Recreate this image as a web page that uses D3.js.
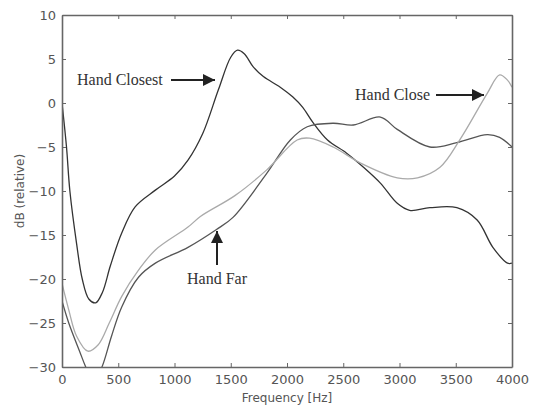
<!DOCTYPE html>
<html>
<head>
<meta charset="utf-8">
<script src="https://cdn.jsdelivr.net/npm/d3@7"></script>
<style>
  body { margin: 0; background: #fff; }
  svg { display: block; }
  .tick text { font-family: 'DejaVu Sans', sans-serif; font-size: 13px; fill: #555; }
  .note { font-family: 'Liberation Serif', 'DejaVu Serif', serif; font-size: 16px; fill: #333; }
</style>
</head>
<body>
<svg id="chart" width="540" height="412"></svg>
<script>
// frequency ticks and dB ticks
const xTicks = [0, 500, 1000, 1500, 2000, 2500, 3000, 3500, 4000];
const yTicks = [10, 5, 0, -5, -10, -15, -20, -25, -30];

// [frequency Hz, dB]
const handClosest = [
  [0, 0], [40, -5], [70, -10], [130, -16], [180, -20], [240, -22.3], [300, -22.7],
  [360, -21.5], [430, -18.5], [530, -14.8], [650, -11.8], [830, -9.9], [1000, -8.3],
  [1120, -6.5], [1250, -3.5], [1390, 1.5], [1500, 5.2], [1560, 6.0], [1620, 5.6],
  [1700, 4.1], [1790, 3.0], [1940, 1.8], [2050, 0.7], [2140, -0.5], [2230, -2.2],
  [2360, -4.2], [2530, -5.7], [2680, -7.3], [2830, -9.1], [2980, -11.4], [3090, -12.2],
  [3270, -11.9], [3510, -11.9], [3690, -13.3], [3830, -16.4], [3960, -18.2], [4000, -18.2]
];
const handClose = [
  [0, -20.5], [60, -23.5], [130, -26.5], [230, -28.2], [320, -27.5], [420, -25],
  [530, -22], [680, -19], [830, -16.7], [1120, -14.1], [1230, -12.9], [1540, -10.5],
  [1820, -7.6], [2090, -4.2], [2200, -4], [2410, -5], [2650, -6.8], [2980, -8.5],
  [3160, -8.5], [3360, -7.3], [3540, -4.1], [3780, 1.1], [3890, 3.2], [3960, 2.6],
  [4000, 1.8]
];
const handFar = [
  [0, -22.5], [60, -25], [150, -28], [230, -30.5], [290, -31.5], [355, -30],
  [440, -26.5], [530, -23.2], [680, -19.8], [830, -18.2], [1120, -16.4], [1370, -14.4],
  [1520, -13], [1820, -8], [2030, -4.2], [2180, -2.7], [2410, -2.3], [2590, -2.5],
  [2830, -1.6], [2980, -3.0], [3270, -5], [3510, -4.5], [3780, -3.6], [3890, -3.9],
  [4000, -5]
];

const series = [
  { name: 'Hand Closest', data: handClosest, color: '#333' },
  { name: 'Hand Far', data: handFar, color: '#555' },
  { name: 'Hand Close', data: handClose, color: '#aaa' }
];

const margin = { top: 15, right: 28, bottom: 45, left: 62 };
const width = 540;
const height = 412;

const svg = d3.select('#chart');

const x = d3.scaleLinear().domain([0, 4000]).range([margin.left, width - margin.right]);
const y = d3.scaleLinear().domain([-30, 10]).range([height - margin.bottom, margin.top]);

svg.append('defs').append('clipPath').attr('id', 'plot-clip')
  .append('rect')
  .attr('x', x(0)).attr('y', y(10))
  .attr('width', x(4000) - x(0)).attr('height', y(-30) - y(10));

const line = d3.line().x(d => x(d[0])).y(d => y(d[1])).curve(d3.curveCatmullRom.alpha(0.5));

svg.append('g').attr('clip-path', 'url(#plot-clip)')
  .selectAll('path')
  .data(series)
  .join('path')
  .attr('d', d => line(d.data))
  .attr('fill', 'none')
  .attr('stroke', d => d.color)
  .attr('stroke-width', 1.3);

// axes, MATLAB style box with inward ticks
const styleAxis = g => {
  g.select('.domain').attr('stroke', '#666').attr('stroke-width', 1.6);
  g.selectAll('.tick line').attr('stroke', '#666');
};

svg.append('g')
  .attr('transform', `translate(0,${y(-30)})`)
  .call(d3.axisBottom(x).tickValues(xTicks).tickSizeInner(-4).tickSizeOuter(0).tickPadding(8)
    .tickFormat(d3.format('d')))
  .call(styleAxis);

svg.append('g')
  .attr('transform', `translate(0,${y(10)})`)
  .call(d3.axisTop(x).tickValues(xTicks).tickSizeInner(-4).tickSizeOuter(0).tickFormat(''))
  .call(styleAxis);

svg.append('g')
  .attr('transform', `translate(${x(0)},0)`)
  .call(d3.axisLeft(y).tickValues(yTicks).tickSizeInner(-4).tickSizeOuter(0).tickPadding(6)
    .tickFormat(d3.format('d')))
  .call(styleAxis);

svg.append('g')
  .attr('transform', `translate(${x(4000)},0)`)
  .call(d3.axisRight(y).tickValues(yTicks).tickSizeInner(-4).tickSizeOuter(0).tickFormat(''))
  .call(styleAxis);

svg.selectAll('.tick text').attr('font-family', null).attr('font-size', null);

svg.append('text')
  .attr('x', (x(0) + x(4000)) / 2)
  .attr('y', 402)
  .attr('text-anchor', 'middle')
  .style('font-family', "'DejaVu Sans', sans-serif")
  .style('font-size', '12px')
  .style('fill', '#555')
  .text('Frequency [Hz]');

svg.append('text')
  .attr('transform', `translate(24,${(y(10) + y(-30)) / 2}) rotate(-90)`)
  .attr('text-anchor', 'middle')
  .style('font-family', "'DejaVu Sans', sans-serif")
  .style('font-size', '12px')
  .style('fill', '#555')
  .text('dB (relative)');

// annotations with arrows
svg.append('defs').append('marker')
  .attr('id', 'head')
  .attr('viewBox', '0 0 10 10')
  .attr('refX', 10).attr('refY', 5)
  .attr('markerWidth', 6).attr('markerHeight', 6)
  .attr('orient', 'auto-start-reverse')
  .append('path').attr('d', 'M0,0L10,5L0,10z').attr('fill', '#222');

const notes = [
  { text: 'Hand Closest', tx: 77, ty: 85, x1: 171, y1: 80, x2: 215, y2: 80 },
  { text: 'Hand Close', tx: 355, ty: 100, x1: 436, y1: 95, x2: 484, y2: 95 },
  { text: 'Hand Far', tx: 187, ty: 284, x1: 217, y1: 265, x2: 217, y2: 231 }
];

notes.forEach(n => {
  svg.append('text').attr('class', 'note').attr('x', n.tx).attr('y', n.ty).text(n.text);
  svg.append('line')
    .attr('x1', n.x1).attr('y1', n.y1).attr('x2', n.x2).attr('y2', n.y2)
    .attr('stroke', '#222').attr('stroke-width', 2)
    .attr('marker-end', 'url(#head)');
});
</script>
</body>
</html>
